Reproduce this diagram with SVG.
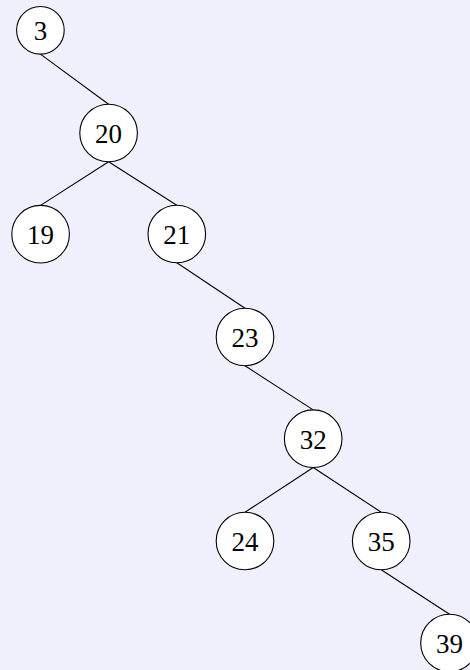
<svg xmlns="http://www.w3.org/2000/svg" width="470" height="670" viewBox="0 0 470 670">
<style>
.n circle{fill:#ffffff;stroke:#000000;stroke-width:1.1}
.n text{font-family:"Liberation Serif","DejaVu Serif",serif;font-size:27px;fill:#000000;text-anchor:middle}
#edges line{stroke:#000000;stroke-width:1.1}
</style>
<rect x="0" y="0" width="470" height="670" fill="#f0f0fc"/>
<g id="edges">
<line x1="40.4" y1="54.1" x2="108.6" y2="104.2"/>
<line x1="108.6" y1="161.8" x2="40.6" y2="205.4"/>
<line x1="108.6" y1="161.8" x2="176.8" y2="205.2"/>
<line x1="176.8" y1="262.8" x2="245" y2="308.2"/>
<line x1="245" y1="365.8" x2="313.2" y2="409.9"/>
<line x1="313.2" y1="467.5" x2="245" y2="512.2"/>
<line x1="313.2" y1="467.5" x2="381.2" y2="512.2"/>
<line x1="381.2" y1="569.8" x2="449.5" y2="614.2"/>
</g>
<g id="n3" class="n"><circle cx="40.4" cy="30.3" r="23.8"/><text x="40.4" y="39.8">3</text></g>
<g id="n20" class="n"><circle cx="108.6" cy="133" r="28.8"/><text x="108.6" y="142.6">20</text></g>
<g id="n19" class="n"><circle cx="40.6" cy="234.2" r="28.8"/><text x="40.6" y="243.8">19</text></g>
<g id="n21" class="n"><circle cx="176.8" cy="234" r="28.8"/><text x="176.8" y="243.6">21</text></g>
<g id="n23" class="n"><circle cx="245" cy="337" r="28.8"/><text x="245" y="346.6">23</text></g>
<g id="n32" class="n"><circle cx="313.2" cy="438.7" r="28.8"/><text x="313.2" y="448.9">32</text></g>
<g id="n24" class="n"><circle cx="245" cy="541" r="28.8"/><text x="245" y="550.6">24</text></g>
<g id="n35" class="n"><circle cx="381.2" cy="541" r="28.8"/><text x="381.2" y="550.6">35</text></g>
<g id="n39" class="n"><circle cx="449.5" cy="643" r="28.8"/><text x="449.5" y="652.6">39</text></g>
</svg>
